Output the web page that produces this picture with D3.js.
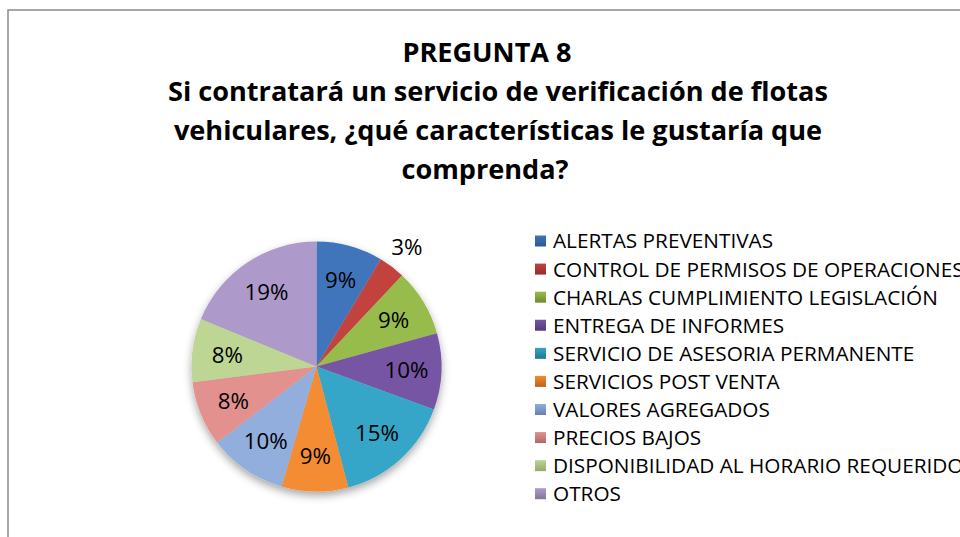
<!DOCTYPE html>
<html>
<head>
<meta charset="utf-8">
<script src="https://cdn.jsdelivr.net/npm/d3@7"></script>
<style>
  html, body { margin: 0; padding: 0; background: #fff; }
  svg { display: block; }
</style>
</head>
<body>
<svg id="chart" width="960" height="537"></svg>
<script>
const titleLines = [
  "PREGUNTA 8",
  "Si contratará un servicio de verificación de flotas",
  "vehiculares, ¿qué características le gustaría que",
  "comprenda?"
];
const categories = [
  "ALERTAS PREVENTIVAS",
  "CONTROL DE PERMISOS DE OPERACIONES",
  "CHARLAS CUMPLIMIENTO LEGISLACIÓN",
  "ENTREGA DE INFORMES",
  "SERVICIO DE ASESORIA PERMANENTE",
  "SERVICIOS POST VENTA",
  "VALORES AGREGADOS",
  "PRECIOS BAJOS",
  "DISPONIBILIDAD AL HORARIO REQUERIDO",
  "OTROS"
];
const values = [8.6, 3.4, 8.7, 9.9, 15.3, 8.6, 10.1, 8.4, 8.2, 18.8];
const colorsTop = ["#3F74BC", "#C2423E", "#97BC4B", "#7654A4", "#35A6C8", "#F38C30", "#92AEDD", "#E3918F", "#BDD693", "#AD9ACB"];
const colorsBottom = ["#2B5890", "#922D2B", "#6E8A33", "#563B78", "#217690", "#BC621F", "#6680AD", "#AD6A69", "#93AA6B", "#85749E"];

const svg = d3.select("#chart");
const W = 960, H = 537;
const font = "'Open Sans', Lato, 'DejaVu Sans', sans-serif";

// fit a font size so that a sample string reaches a given width
function fitSize(sample, weight, targetWidth) {
  const t = svg.append("text")
    .attr("font-family", font).attr("font-weight", weight)
    .attr("font-size", 20).text(sample);
  const w = t.node().getComputedTextLength();
  t.remove();
  return 20 * targetWidth / w;
}

// chart border
svg.append("rect")
  .attr("x", 8).attr("y", 10)
  .attr("width", W).attr("height", H)
  .attr("fill", "#fff")
  .attr("stroke", "#8a8a8a").attr("stroke-width", 1.5);

// title
const titleSize = fitSize(titleLines[1], "bold", 660);
const titleX = [487, 498, 498, 485];
svg.append("g").selectAll("text")
  .data(titleLines)
  .join("text")
  .attr("x", (d, i) => titleX[i])
  .attr("y", (d, i) => 61.5 + i * 39.3)
  .attr("text-anchor", "middle")
  .attr("font-family", font)
  .attr("font-weight", "bold")
  .attr("font-size", titleSize)
  .attr("fill", "#000")
  .text(d => d);

// pie
const cx = 316.5, cy = 366.5, R = 125;
const defs = svg.append("defs");
const filter = defs.append("filter").attr("id", "shadow")
  .attr("x", "-20%").attr("y", "-20%").attr("width", "140%").attr("height", "140%");
filter.append("feDropShadow")
  .attr("dx", 0).attr("dy", 4).attr("stdDeviation", 4)
  .attr("flood-color", "#000").attr("flood-opacity", 0.35);

categories.forEach((c, i) => {
  const g = defs.append("linearGradient")
    .attr("id", "grad" + i)
    .attr("gradientUnits", "userSpaceOnUse")
    .attr("x1", 0).attr("x2", 0)
    .attr("y1", cy - R).attr("y2", cy + R);
  g.append("stop").attr("offset", "0%").attr("stop-color", colorsTop[i]);
  g.append("stop").attr("offset", "100%").attr("stop-color", colorsBottom[i]);
  const lg = defs.append("linearGradient")
    .attr("id", "lg" + i)
    .attr("x1", 0).attr("x2", 0).attr("y1", 0).attr("y2", 1);
  lg.append("stop").attr("offset", "0%").attr("stop-color", colorsTop[i]);
  lg.append("stop").attr("offset", "100%").attr("stop-color", colorsBottom[i]);
});

const pie = d3.pie().sort(null).value(d => d)(values);
const arc = d3.arc().innerRadius(0).outerRadius(R);
const total = d3.sum(values);

svg.append("g").attr("filter", "url(#shadow)")
  .selectAll("path")
  .data(pie)
  .join("path")
  .attr("d", arc)
  .attr("transform", `translate(${cx},${cy})`)
  .attr("fill", (d, i) => `url(#grad${i})`);

// labels
const labelSize = fitSize("15%", "normal", 44);
const capH = labelSize * 0.714;
const inArc = d3.arc().innerRadius(R * 0.72).outerRadius(R * 0.72);
const outArc = d3.arc().innerRadius(R * 1.2).outerRadius(R * 1.2);
svg.append("g").selectAll("text")
  .data(pie)
  .join("text")
  .each(function(d) {
    const pct = Math.round(d.value / total * 100);
    const c = (pct < 5 ? outArc : inArc).centroid(d);
    d3.select(this)
      .attr("x", cx + c[0])
      .attr("y", cy + c[1] + capH / 2)
      .text(pct + "%");
  })
  .attr("text-anchor", "middle")
  .attr("font-family", font)
  .attr("font-size", labelSize)
  .attr("fill", "#000");

// legend
const legX = 535, legY0 = 241, legStep = 28.08;
const legSize = fitSize(categories[2], "normal", 385);
const rows = svg.append("g").selectAll("g")
  .data(categories)
  .join("g")
  .attr("transform", (d, i) => `translate(${legX},${legY0 + i * legStep})`);
rows.append("rect")
  .attr("x", 0).attr("y", -5.5)
  .attr("width", 11).attr("height", 11)
  .attr("fill", (d, i) => `url(#lg${i})`);
rows.append("text")
  .attr("x", 18)
  .attr("y", legSize * 0.714 / 2)
  .attr("font-family", font)
  .attr("font-size", legSize)
  .attr("fill", "#000")
  .text(d => d);
</script>
</body>
</html>
